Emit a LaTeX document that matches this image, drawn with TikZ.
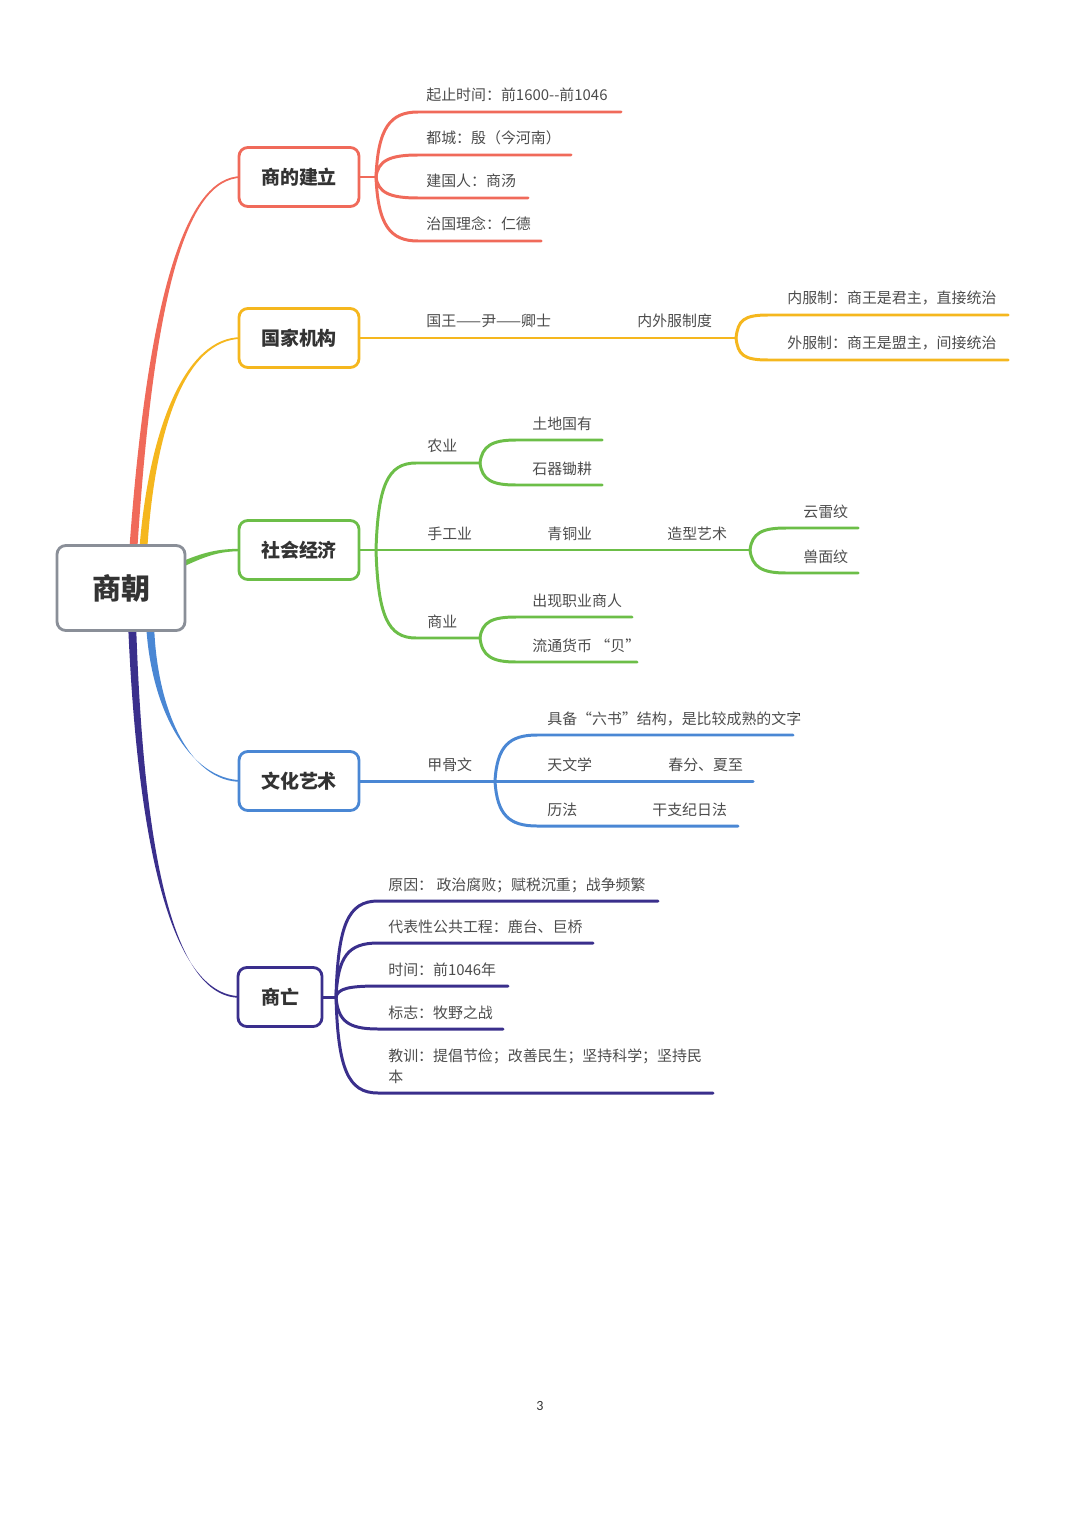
\documentclass[tikz,border=0pt]{standalone}
\usepackage{fontspec}
\setmainfont{Noto Sans CJK SC}
\newfontfamily\pagefont{Carlito}
\usetikzlibrary{calc,backgrounds}

\definecolor{cjianli}{RGB}{240,106,90}
\definecolor{cjigou}{RGB}{245,183,30}
\definecolor{cjingji}{RGB}{108,190,72}
\definecolor{cwenhua}{RGB}{74,135,212}
\definecolor{cwang}{RGB}{58,47,140}
\definecolor{cgen}{RGB}{138,143,152}

\begin{document}
\begin{tikzpicture}[x=0.02cm, y=-0.02cm,
	topic/.style={draw, line width=1.6pt, rounded corners=5pt, fill=white, text=black!80, inner sep=0pt,
		font=\bfseries\fontsize{10.8}{12}\selectfont, minimum width=2.4cm, minimum height=1.18cm},
	leaf/.style={anchor=west, inner sep=0pt, text=black!70, font=\fontsize{8.5}{12}\selectfont},
	twig/.style={line width=1.7pt, line cap=round}]
		
		% Fix the page size
		\useasboundingbox (0,0) rectangle (1080,1527);
		
		% Draw the root and the five topics
		\node[topic, draw=cgen, minimum width=2.56cm, minimum height=1.7cm,
			font=\bfseries\fontsize{16.5}{18}\selectfont] (root) at (121,588) {商朝};
		\node[topic, draw=cjianli] (jianli) at (299,177) {商的建立};
		\node[topic, draw=cjigou] (jigou) at (299,338) {国家机构};
		\node[topic, draw=cjingji] (jingji) at (299,550) {社会经济};
		\node[topic, draw=cwenhua] (wenhua) at (299,781) {文化艺术};
		\node[topic, draw=cwang, minimum width=1.68cm] (wang) at (280,997) {商亡};
		
		% Draw the tapered links from the root
		\begin{scope}[on background layer]
		\fill[cjianli] ($(root.north)+(8,10)$) .. controls (147,300) and (185,175.5) .. ($(jianli.west)+(4,-0.8)$)
			-- ($(jianli.west)+(4,0.8)$) .. controls (185,178.5) and (153,300) .. ($(root.north)+(16,10)$) -- cycle;
		\fill[cjigou] ($(root.north)+(18,10)$) .. controls (148,430) and (185,336.5) .. ($(jigou.west)+(4,-0.8)$)
			-- ($(jigou.west)+(4,0.8)$) .. controls (185,339.5) and (154,430) .. ($(root.north)+(26,10)$) -- cycle;
		\fill[cjingji] ($(root.east)+(-10,-24)$) .. controls (205,551) and (220,548.8) .. ($(jingji.west)+(4,-1.2)$)
			-- ($(jingji.west)+(4,1.2)$) .. controls (220,551.2) and (207,555) .. ($(root.east)+(-10,-18)$) -- cycle;
		\fill[cwenhua] ($(root.south)+(25,-10)$) .. controls (150,710) and (190,779.5) .. ($(wenhua.west)+(4,-0.8)$)
			-- ($(wenhua.west)+(4,0.8)$) .. controls (190,782.5) and (156,710) .. ($(root.south)+(33,-10)$) -- cycle;
		\fill[cwang] ($(root.south)+(7,-10)$) .. controls (137,840) and (170,995.5) .. ($(wang.west)+(4,-0.8)$)
			-- ($(wang.west)+(4,0.8)$) .. controls (170,998.5) and (143,840) .. ($(root.south)+(15,-10)$) -- cycle;
		\end{scope}
		
		% Branches of the first topic
		\coordinate (jfork) at (376,177);
		\draw[twig, cjianli] (jianli.east) -- (jfork);
		\foreach \y/\e/\t [count=\i] in {112/621/{起止时间：前1600-{}-前1046}, 155/571/{都城：殷（今河南）},
			198/528/{建国人：商汤}, 241/541/{治国理念：仁德}}{
			\coordinate (jend\i) at (\e,\y);
			\draw[twig, cjianli] (jfork) .. controls +(2,{0.75*(\y-177)}) and +(-28,0) .. (418,\y) -- (jend\i);
			\node[leaf] (jtext\i) at (426,\y-17) {\t};
		}
		
		% Branches of the second topic
		\coordinate (gfork) at (736,338);
		\draw[twig, cjigou] (jigou.east) -- (gfork);
		\node[leaf] (guowang) at (426,321) {国王——尹——卿士};
		\node[leaf] (neiwai) at (637,321) {内外服制度};
		\foreach \y/\t [count=\i] in {315/{内服制：商王是君主，直接统治}, 360/{外服制：商王是盟主，间接统治}}{
			\coordinate (gend\i) at (1008,\y);
			\draw[twig, cjigou] (gfork) .. controls +(2,{0.75*(\y-338)}) and +(-25,0) .. (768,\y) -- (gend\i);
			\node[leaf] (gtext\i) at (787,\y-17) {\t};
		}
		
		% Branches of the third topic
		\coordinate (efork) at (376,550);
		\coordinate (nfork) at (480,463);
		\coordinate (zfork) at (750,550);
		\coordinate (sfork) at (480,638);
		\draw[twig, cjingji] (jingji.east) -- (efork) -- (zfork);
		\draw[twig, cjingji] (efork) .. controls +(2,-65) and +(-28,0) .. (416,463) -- (nfork);
		\draw[twig, cjingji] (efork) .. controls +(2,66) and +(-28,0) .. (416,638) -- (sfork);
		\node[leaf] (nongye) at (427,446) {农业};
		\node[leaf] (shougong) at (427,534) {手工业};
		\node[leaf] (qingtong) at (547,534) {青铜业};
		\node[leaf] (zaoxing) at (667,534) {造型艺术};
		\node[leaf] (shangye) at (427,622) {商业};
		\foreach \f/\d/\y/\e/\x/\t [count=\i] in {nfork/-17/440/602/532/{土地国有}, nfork/17/485/602/532/{石器锄耕},
			zfork/-17/528/858/803/{云雷纹}, zfork/17/573/858/803/{兽面纹},
			sfork/-16/617/632/532/{出现职业商人}, sfork/18/662/637/532/{流通货币 “贝”}}{
			\coordinate (eend\i) at (\e,\y);
			\draw[twig, cjingji] (\f) .. controls +(2,\d) and +(-24,0) .. ($(\f |- eend\i)+(36,0)$) -- (eend\i);
			\node[leaf] (etext\i) at (\x,\y-16) {\t};
		}
		
		% Branches of the fourth topic
		\coordinate (bfork) at (495,781);
		\draw[twig, cwenhua] (wenhua.east) -- (bfork);
		\node[leaf] (jiagu) at (427,765) {甲骨文};
		\foreach \y/\e/\t [count=\i] in {735/793/{具备“六书”结构，是比较成熟的文字}, 781/753/{天文学}, 826/738/{历法}}{
			\coordinate (bend\i) at (\e,\y);
			\draw[twig, cwenhua] (bfork) .. controls +(2,{0.75*(\y-781)}) and +(-28,0) .. (537,\y) -- (bend\i);
			\node[leaf] (btext\i) at (547,\y-16) {\t};
		}
		\node[leaf] (chunfen) at (668,765) {春分、夏至};
		\node[leaf] (ganzhi) at (652,810) {干支纪日法};
		
		% Branches of the fifth topic
		\coordinate (pfork) at (336,997);
		\draw[twig, cwang] (wang.east) -- (pfork);
		\foreach \y/\e/\t [count=\i] in {901/658/{原因： 政治腐败；赋税沉重；战争频繁}, 943/593/{代表性公共工程：鹿台、巨桥},
			986/508/{时间：前1046年}, 1029/503/{标志：牧野之战}}{
			\coordinate (pend\i) at (\e,\y);
			\draw[twig, cwang] (pfork) .. controls +(2,{0.75*(\y-997)}) and +(-30,0) .. (378,\y) -- (pend\i);
			\node[leaf] (ptext\i) at (388,\y-16) {\t};
		}
		\coordinate (pend5) at (713,1093);
		\draw[twig, cwang] (pfork) .. controls +(2,72) and +(-30,0) .. (378,1093) -- (pend5);
		\node[leaf, align=left] (ptext5) at (388,1066) {教训：提倡节俭；改善民生；坚持科学；坚持民\\本};
		
		% Page number
		\node[text=black!80, font=\pagefont\fontsize{8}{10}\selectfont] (page) at (540,1406) {3};
		
	\end{tikzpicture}
\end{document}
